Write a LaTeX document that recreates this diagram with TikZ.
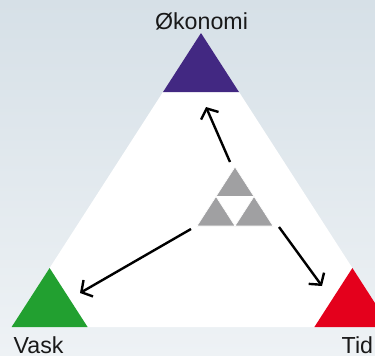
\documentclass[tikz,border=0pt]{standalone}
\usepackage{fontspec}
\setmainfont{Liberation Sans}
\usetikzlibrary{arrows.meta}
\definecolor{bgtop}{RGB}{214,224,231}
\definecolor{bgbot}{RGB}{238,242,245}
\definecolor{okocol}{RGB}{66,40,130}
\definecolor{vaskcol}{RGB}{34,160,48}
\definecolor{tidcol}{RGB}{228,0,28}
\definecolor{midgray}{RGB}{160,160,162}
\tikzset{
  corner/.style={inner sep=0pt,text=black!90,font=\fontsize{23.2}{27}\selectfont,anchor=base},
  pull/.style={line width=2.4pt,-{Straight Barb[length=8pt,width=19pt]}}
}
\begin{document}
\begin{tikzpicture}[x=1pt,y=-1pt]
  \def\hw{38}   % half width of one small triangle
  \def\hh{59}   % its height
  \useasboundingbox (0,0) rectangle (375,356);
  \clip (0,0) rectangle (375,356);
  \shade[top color=bgtop,bottom color=bgbot] (0,0) rectangle (375,356);
  \fill[white] (201,33) -- (11.6,327) -- (390.4,327) -- cycle;
  \foreach \x/\y/\c in {201/33/okocol, 49.6/268/vaskcol, 352.4/268/tidcol} { \fill[\c] (\x,\y) -- ++(-\hw,\hh) -- ++(2*\hw,0) -- cycle; }
  \foreach \x/\y in {235/167, 216/196.5, 254/196.5} { \fill[midgray,draw=white,line width=0.6pt] (\x,\y) -- ++(-\hw/2,\hh/2) -- ++(\hw,0) -- cycle; }
  % arrow ends
  \coordinate (fromOko) at (230,162);  \coordinate (toOko) at (206,107);
  \coordinate (fromVask) at (191,229); \coordinate (toVask) at (80,293);
  \coordinate (fromTid) at (279,227);  \coordinate (toTid) at (322,286);
  \draw[pull] (fromOko) -- (toOko);
  \draw[pull] (fromVask) -- (toVask);
  \draw[pull] (fromTid) -- (toTid);
  \node[corner] (oko) at (201.5,29) {Økonomi};
  \node[corner,anchor=base west] (vask) at (13.5,353.5) {Vask};
  \node[corner,anchor=base west] (tid) at (341.5,353.5) {Tid};
\end{tikzpicture}
\end{document}
